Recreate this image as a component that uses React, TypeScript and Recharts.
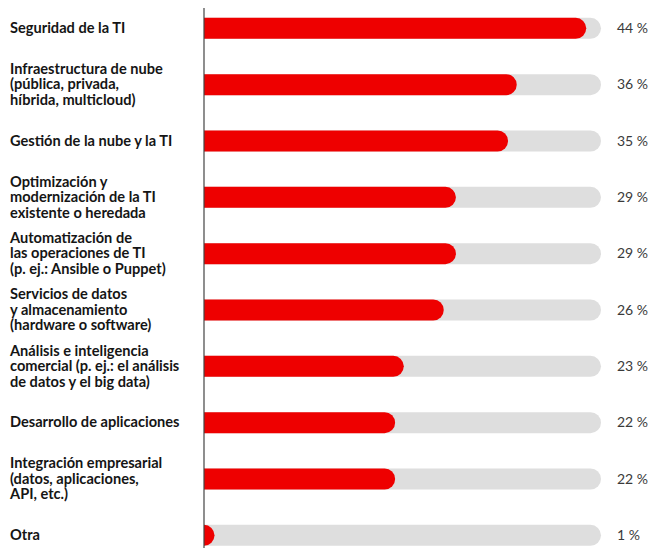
import { BarChart, Bar, XAxis, YAxis } from 'recharts'

const categories = [
  'Seguridad de la TI',
  'Infraestructura de nube\n(pública, privada,\nhíbrida, multicloud)',
  'Gestión de la nube y la TI',
  'Optimización y\nmodernización de la TI\nexistente o heredada',
  'Automatización de\nlas operaciones de TI\n(p. ej.: Ansible o Puppet)',
  'Servicios de datos\ny almacenamiento\n(hardware o software)',
  'Análisis e inteligencia\ncomercial (p. ej.: el análisis\nde datos y el big data)',
  'Desarrollo de aplicaciones',
  'Integración empresarial\n(datos, aplicaciones,\nAPI, etc.)',
  'Otra',
]

// bar lengths as drawn in the source
const values = [44, 36, 35, 29, 29, 27.6, 23, 22, 22, 1]

const valueLabels = ['44 %', '36 %', '35 %', '29 %', '29 %', '26 %', '23 %', '22 %', '22 %', '1 %']

const data = categories.map((name, i) => ({ name, value: values[i] }))

const RED = '#ee0000'
const TRACK = '#dedede'
const FONT = 'Lato, "Open Sans", sans-serif'

const PillBar = (props: any) => {
  const { x, y, width, height, fill } = props
  const r = height / 2
  const flat = Math.max(width - r, 0)
  const d = `M${x},${y} H${x + flat} A${r},${r} 0 0 1 ${x + flat},${y + height} H${x} Z`
  return <path d={d} fill={fill} />
}

const LeftTick = ({ y, payload }: any) => {
  const lines: string[] = String(payload.value).split('\n')
  const n = lines.length
  return (
    <text fontFamily={FONT} fontSize={14.6} fontWeight={700} fill="#151515" textAnchor="start">
      {lines.map((l, i) => (
        <tspan key={i} x={10} y={y + (i - (n - 1) / 2) * 15.5 + 5}>
          {l}
        </tspan>
      ))}
    </text>
  )
}

const RightTick = ({ y, payload }: any) => (
  <text x={617} y={y + 5} fontFamily={FONT} fontSize={14} fill="#3a3a3a" textAnchor="start">
    {valueLabels[payload.index]}
  </text>
)

const pad = { top: -8.17, bottom: -15.2 }

export default function App() {
  return (
    <div style={{ position: 'absolute', left: 0, top: 0, width: 650, height: 548, overflow: 'hidden', background: '#fff' }}>
      <BarChart
        width={650}
        height={548}
        data={data}
        layout="vertical"
        margin={{ top: 8, right: 0, bottom: 0, left: 0 }}
      >
        <XAxis type="number" hide domain={[0, 45.7]} allowDataOverflow />
        <Bar
          yAxisId="left"
          dataKey="value"
          fill={RED}
          barSize={21}
          shape={PillBar}
          background={{ fill: TRACK, radius: [0, 10.5, 10.5, 0] }}
          isAnimationActive={false}
        />
        <YAxis
          yAxisId="left"
          type="category"
          dataKey="name"
          width={204}
          interval={0}
          padding={pad}
          tickLine={false}
          axisLine={{ stroke: '#444', strokeWidth: 1.2 }}
          tick={LeftTick}
        />
        <YAxis
          yAxisId="right"
          orientation="right"
          type="category"
          dataKey="name"
          width={49}
          interval={0}
          padding={pad}
          tickLine={false}
          axisLine={false}
          tick={RightTick}
        />
      </BarChart>
    </div>
  )
}
